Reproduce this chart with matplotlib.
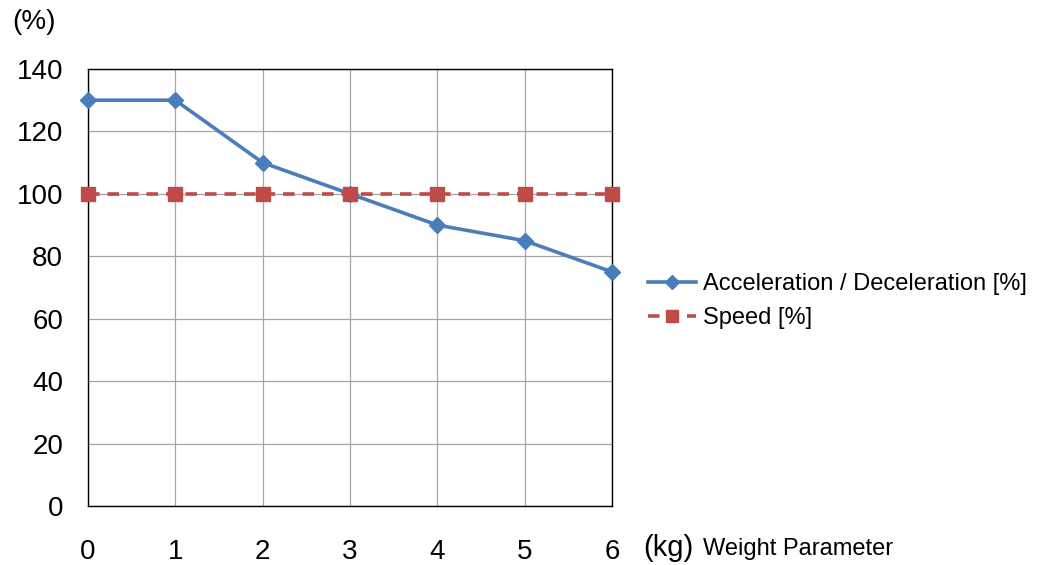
import matplotlib.pyplot as plt

weights = [0, 1, 2, 3, 4, 5, 6]
accel = [130, 130, 110, 100, 90, 85, 75]
speed = [100, 100, 100, 100, 100, 100, 100]
yticks = [0, 20, 40, 60, 80, 100, 120, 140]

plt.rcParams['font.family'] = ['Liberation Sans', 'DejaVu Sans']

fig = plt.figure(figsize=(10.38, 5.65), dpi=100)
ax = fig.add_axes([88 / 1038, 1 - 506 / 565, 524 / 1038, 437 / 565])

ax.plot(weights, accel, '-', color='#4A7EBB', lw=2.6, marker='D', ms=8.5,
        label='Acceleration / Deceleration [%]', clip_on=False, zorder=3)
ax.plot(weights, speed, '--', color='#BE4B48', lw=2.6, marker='s', ms=10,
        dashes=(3.2, 2.2), label='Speed [%]', clip_on=False, zorder=3)

ax.set_xlim(0, 6)
ax.set_ylim(0, 140)
ax.set_xticks(weights)
ax.set_yticks(yticks)
ax.grid(True, color='#A6A6A6', lw=0.9)
ax.set_axisbelow(True)
for s in ax.spines.values():
    s.set_color('black')
    s.set_linewidth(1.0)
ax.tick_params(length=0, labelsize=20)
ax.tick_params(axis='x', pad=24)
ax.tick_params(axis='y', pad=18)

fig.text(12 / 1038, 1 - 22 / 565, '(%)', fontsize=20, va='center', ha='left')
fig.text(643 / 1038, 1 - 548 / 565, '(kg)', fontsize=21, va='center', ha='left')
fig.text(703 / 1038, 1 - 549 / 565, 'Weight Parameter', fontsize=17, va='center', ha='left')

ax.legend(loc='center left', bbox_to_anchor=(1.029, 0.469), frameon=False,
          fontsize=17, handlelength=2.0, handletextpad=0.3, labelspacing=0.5,
          markerscale=0.85)

fig.savefig('out.png', dpi=100)
